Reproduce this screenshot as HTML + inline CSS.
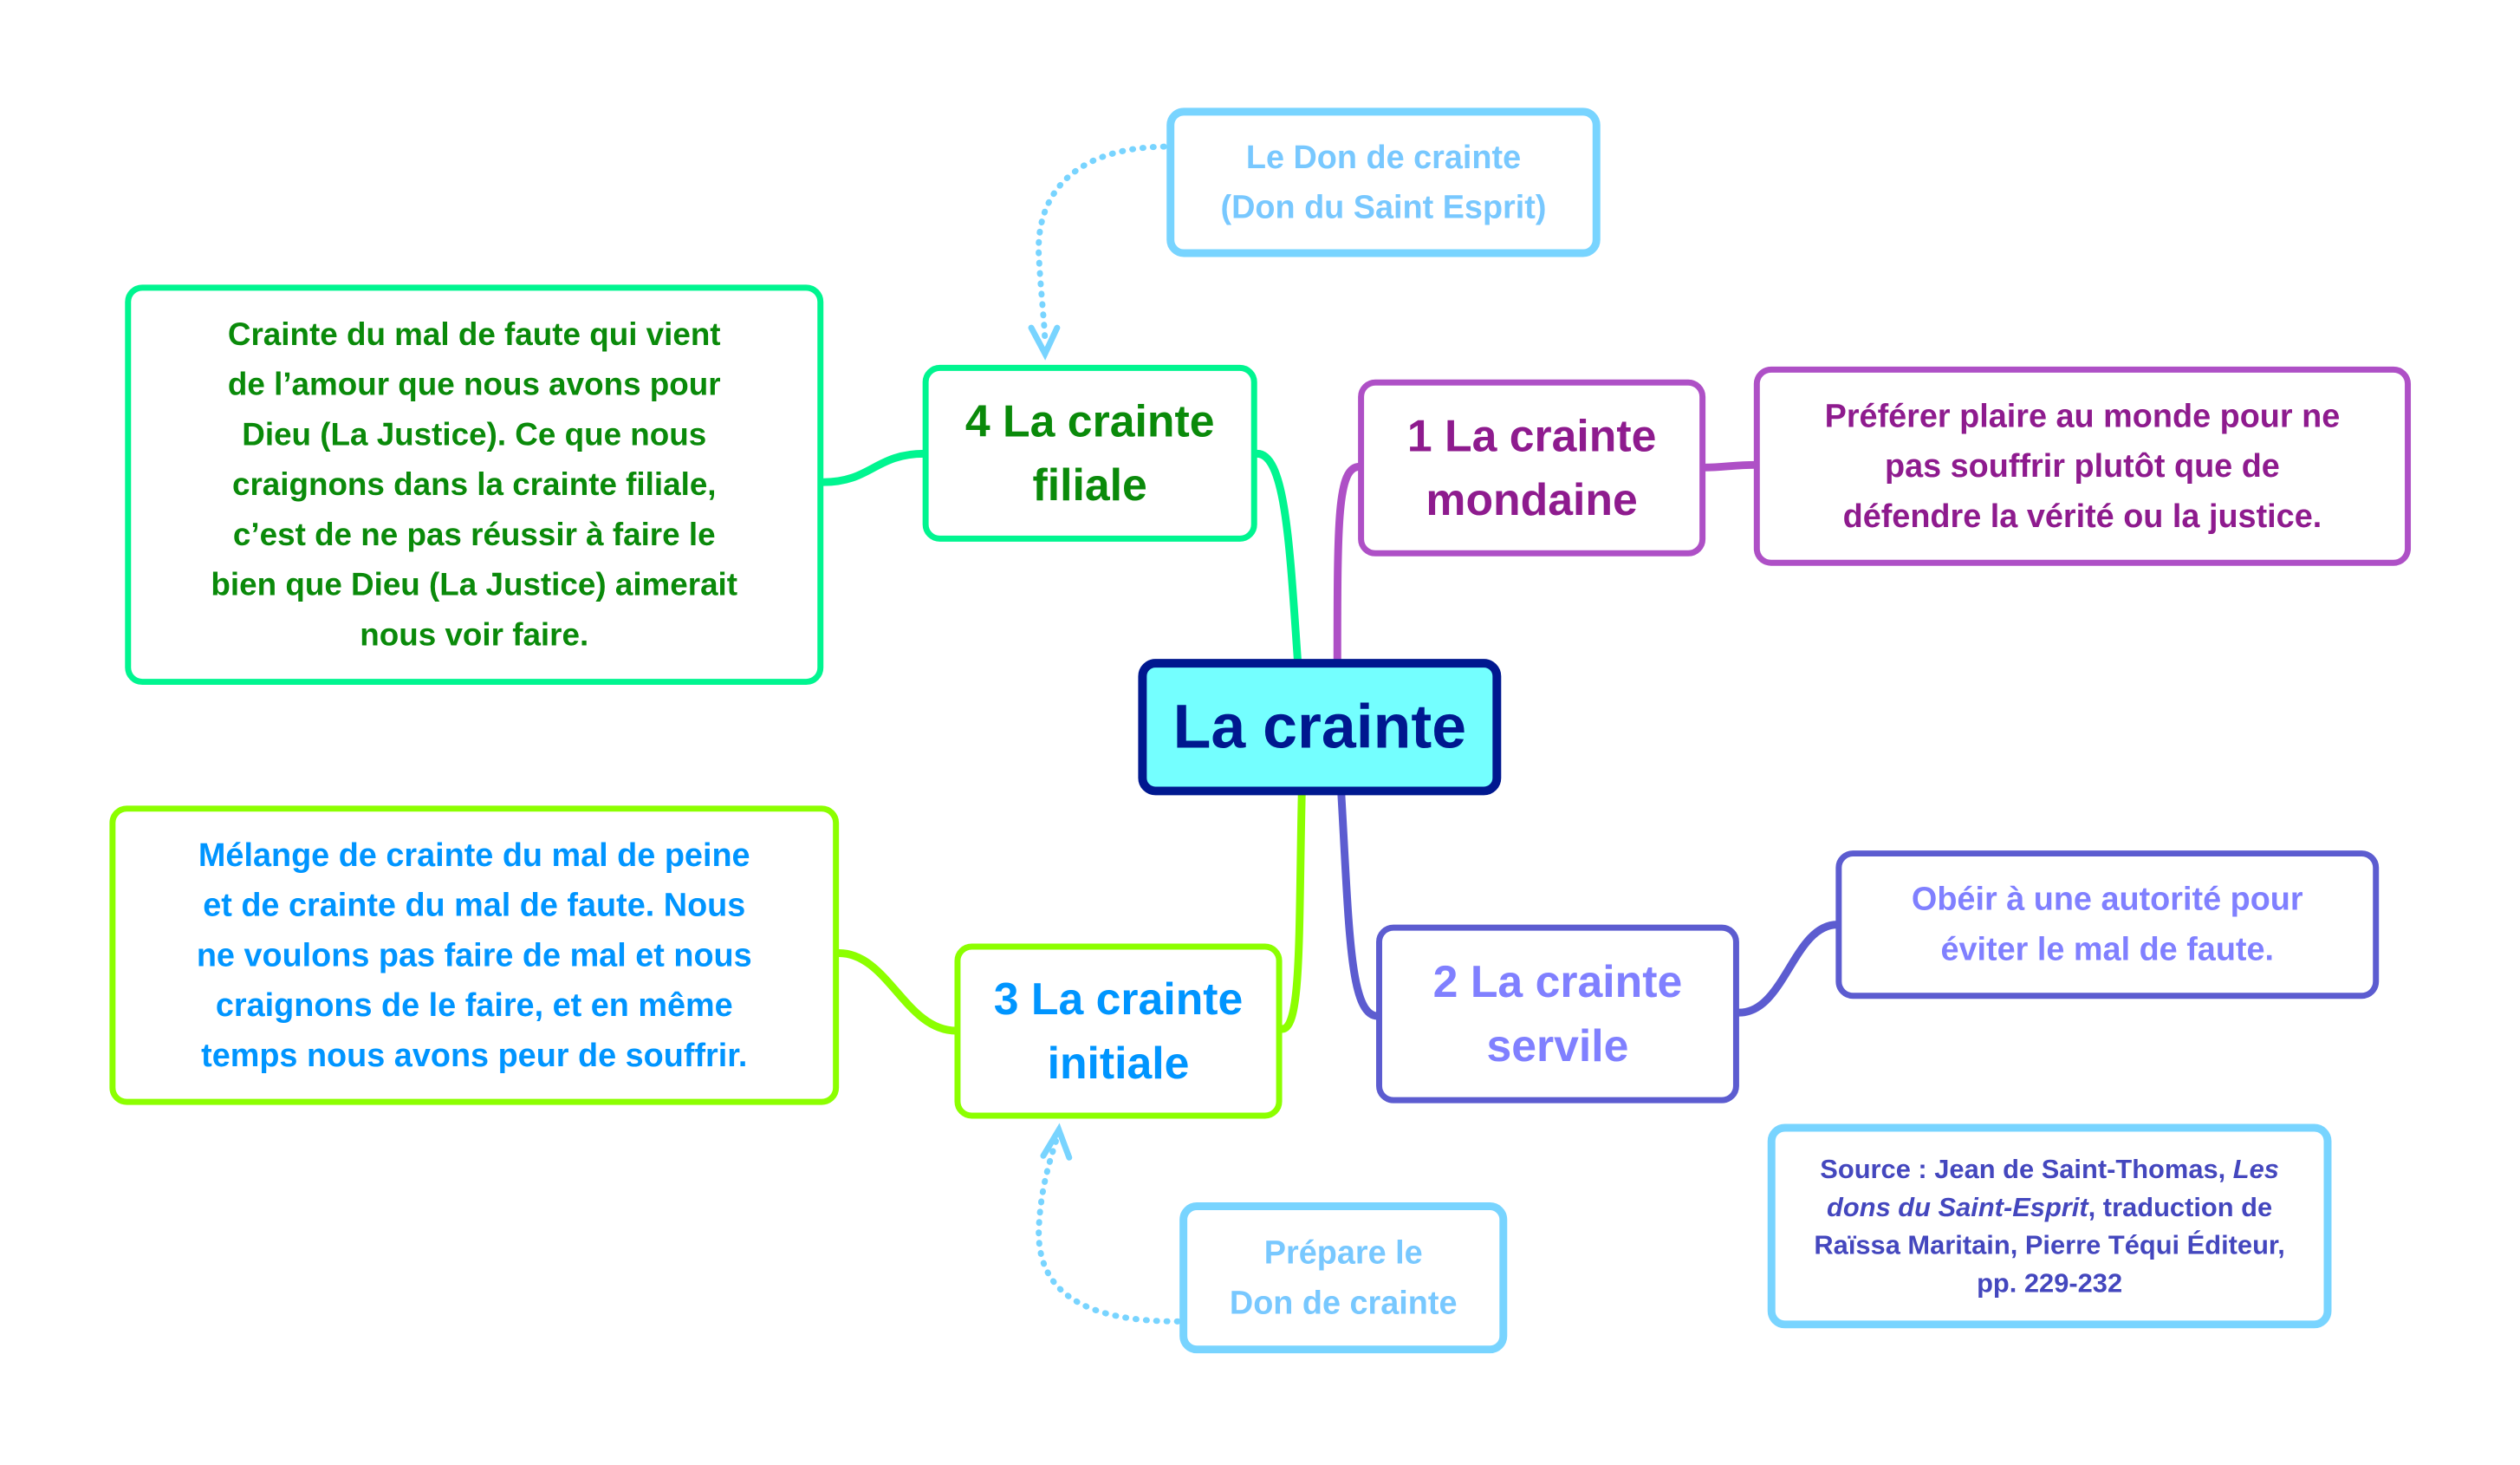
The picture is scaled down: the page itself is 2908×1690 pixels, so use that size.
<!DOCTYPE html>
<html><head><meta charset="utf-8"><style>
html,body{margin:0;padding:0;background:#fff;overflow:hidden}
#w{width:2908px;height:1690px;overflow:hidden;background:#fff}
#c{position:relative;width:2908px;height:1690px;background:#fff;font-family:"Liberation Sans",sans-serif;font-weight:bold;transform:scale(0.995);transform-origin:0 0}
.b{position:absolute;box-sizing:border-box;background:#fff;border-radius:20px;display:flex;align-items:center;justify-content:center;text-align:center}
.b>div{text-align:center}
svg{position:absolute;left:0;top:0}
</style></head><body><div id="w"><div id="c">
<svg width="2908" height="1690" viewBox="0 0 2908 1690" fill="none" stroke-linecap="round">
<path d="M1506 780 C1496 640 1492 526 1458 526" stroke="#00F590" stroke-width="9"/>
<path d="M955 559 C1010 559 1015 526 1072 526" stroke="#00F590" stroke-width="9"/>
<path d="M1551 780 C1551 600 1551 541 1577 541" stroke="#AE50C6" stroke-width="9"/>
<path d="M1976 542 C2000 542 2010 539 2036 539" stroke="#AE50C6" stroke-width="9"/>
<path d="M1555 910 C1565 1080 1565 1178 1598 1178" stroke="#5C5CD0" stroke-width="9"/>
<path d="M2017 1174 C2070 1174 2080 1072 2131 1072" stroke="#5C5CD0" stroke-width="9"/>
<path d="M1510 910 C1506 1080 1510 1193 1487 1193" stroke="#8CFF00" stroke-width="9"/>
<path d="M973 1105 C1030 1105 1050 1195 1109 1195" stroke="#8CFF00" stroke-width="9"/>
<path d="M1350 170 C1240 172 1200 230 1205 300 C1208 350 1212 380 1212 400" stroke="#78D4FF" stroke-width="7" stroke-dasharray="1 11"/>
<path d="M1196 380 L1212 410 L1226 380" stroke="#78D4FF" stroke-width="7"/>
<path d="M1366 1532 C1260 1532 1200 1500 1205 1420 C1208 1370 1220 1340 1226 1318" stroke="#78D4FF" stroke-width="7" stroke-dasharray="1 11"/>
<path d="M1210 1340 L1228 1310 L1240 1342" stroke="#78D4FF" stroke-width="7"/>
</svg>

<div class="b" style="left:1320px;top:764px;width:421px;height:158px;border:10px solid #00188F;background:#74FFFF;color:#00188F;font-size:72px"><div>La crainte</div></div>

<div class="b" style="left:1070px;top:423px;width:388px;height:205px;border:7px solid #00F590;color:#0A8A0A;font-size:52px;line-height:74px"><div>4 La crainte<br>filiale</div></div>
<div class="b" style="left:145px;top:330px;width:810px;height:464px;border:7px solid #00F590;color:#0A8A0A;font-size:37px;line-height:58px"><div>Crainte du mal de faute qui vient<br>de l’amour que nous avons pour<br>Dieu (La Justice). Ce que nous<br>craignons dans la crainte filiale,<br>c’est de ne pas réussir à faire le<br>bien que Dieu (La Justice) aimerait<br>nous voir faire.</div></div>

<div class="b" style="left:1575px;top:440px;width:403px;height:205px;border:7px solid #AE50C6;color:#8E1B8E;font-size:52px;line-height:74px"><div>1 La crainte<br>mondaine</div></div>
<div class="b" style="left:2034px;top:425px;width:762px;height:231px;border:7px solid #AE50C6;color:#8E1B8E;font-size:38px;line-height:58px"><div>Préférer plaire au monde pour ne<br>pas souffrir plutôt que de<br>défendre la vérité ou la justice.</div></div>

<div class="b" style="left:1596px;top:1072px;width:421px;height:207px;border:7px solid #5C5CD0;color:#8080FF;font-size:52px;line-height:74px"><div>2 La crainte<br>servile</div></div>
<div class="b" style="left:2129px;top:986px;width:630px;height:172px;border:7px solid #5C5CD0;color:#8080FF;font-size:38px;line-height:58px"><div>Obéir à une autorité pour<br>éviter le mal de faute.</div></div>

<div class="b" style="left:1107px;top:1094px;width:380px;height:203px;border:7px solid #8CFF00;color:#0095FF;font-size:52px;line-height:74px"><div>3 La crainte<br>initiale</div></div>
<div class="b" style="left:127px;top:934px;width:846px;height:347px;border:7px solid #8CFF00;color:#0095FF;font-size:38px;line-height:58px"><div>Mélange de crainte du mal de peine<br>et de crainte du mal de faute. Nous<br>ne voulons pas faire de mal et nous<br>craignons de le faire, et en même<br>temps nous avons peur de souffrir.</div></div>

<div class="b" style="left:1353px;top:125px;width:503px;height:173px;border:9px solid #78D4FF;color:#78C8FF;font-size:38px;line-height:58px"><div>Le Don de crainte<br>(Don du Saint Esprit)</div></div>
<div class="b" style="left:1368px;top:1394px;width:380px;height:175px;border:9px solid #78D4FF;color:#78C8FF;font-size:38px;line-height:58px"><div>Prépare le<br>Don de crainte</div></div>

<div class="b" style="left:2050px;top:1303px;width:654px;height:237px;border:9px solid #78D4FF;color:#4447BE;font-size:31px;line-height:44px"><div>Source : Jean de Saint-Thomas, <i>Les</i><br><i>dons du Saint-Esprit</i>, traduction de<br>Raïssa Maritain, Pierre Téqui Éditeur,<br>pp. 229-232</div></div>
</div></div></body></html>
